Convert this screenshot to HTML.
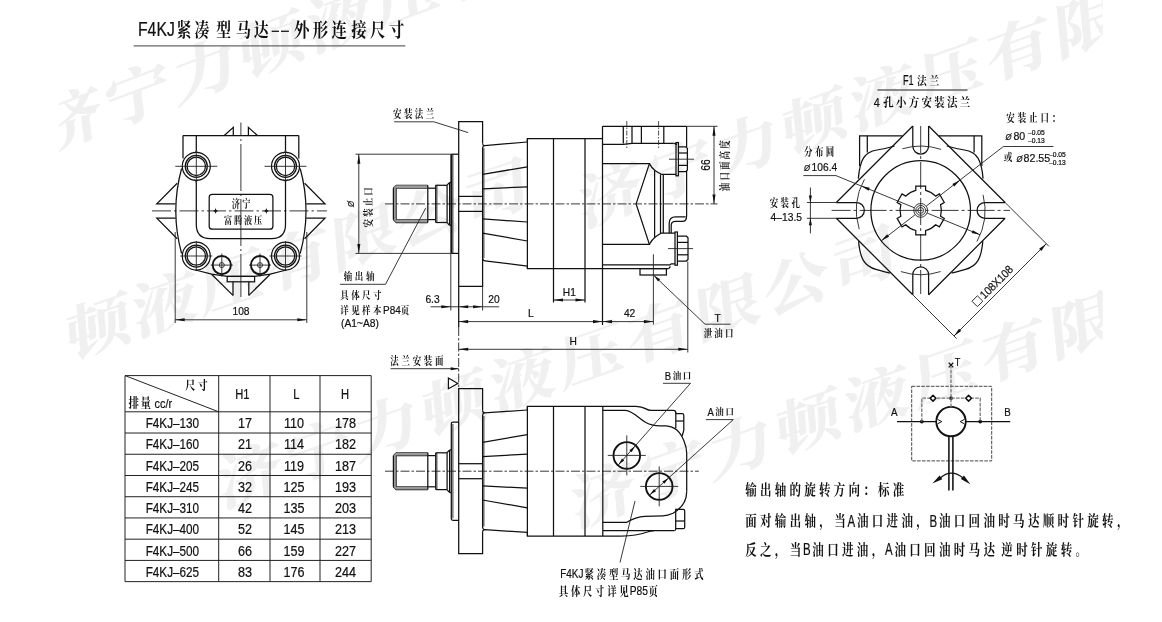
<!DOCTYPE html>
<html><head><meta charset="utf-8"><title>F4KJ</title>
<style>
html,body{margin:0;padding:0;background:#fff}
svg{display:block;font-family:"Liberation Sans","Noto Serif CJK SC",sans-serif;will-change:transform}
.k{fill:none;stroke:#111;stroke-width:1.25}
.k3{fill:none;stroke:#111;stroke-width:1.55}
.k2{fill:none;stroke:#111;stroke-width:1.9}
.n{fill:none;stroke:#222;stroke-width:.9}
.c{fill:none;stroke:#222;stroke-width:.9;stroke-dasharray:9 2 2.5 2}
.d{fill:none;stroke:#333;stroke-width:.9;stroke-dasharray:3.6 1.2}
.d2{fill:none;stroke:#777;stroke-width:1.3;stroke-dasharray:3.6 1.2}
.c2{fill:none;stroke:#222;stroke-width:.8;stroke-dasharray:5 1.5 1.5 1.5}
.n2{fill:none;stroke:#222;stroke-width:.6}
.g{fill:none;stroke:#666;stroke-width:1.3}
.a{fill:#111;stroke:none}
.t{fill:none;stroke:#222;stroke-width:1}
text{fill:#111;stroke:#111;stroke-width:.22px}
.z{font-family:"Liberation Sans","Noto Serif CJK SC",serif;font-weight:700;stroke:none}
.wm text{fill:#f0f0f0;stroke:#f0f0f0;stroke-width:.5px;font-family:"Liberation Serif","Noto Serif CJK SC",serif;font-weight:700;font-size:58px;text-anchor:middle}
</style></head><body>
<svg width="1162" height="622" viewBox="0 0 1162 622">
<clipPath id="wmc"><rect x="58.9" y="0" width="1043.8" height="622"/></clipPath><g class="wm" clip-path="url(#wmc)">
<text y="20.3" transform="translate(70 121) rotate(-20.5) skewX(-14) scale(1.172 1)">济</text>
<text y="20.3" transform="translate(137.44 95.79) rotate(-20.5) skewX(-14) scale(1.172 1)">宁</text>
<text y="20.3" transform="translate(204.88 70.57) rotate(-20.5) skewX(-14) scale(1.172 1)">力</text>
<text y="20.3" transform="translate(272.32 45.36) rotate(-20.5) skewX(-14) scale(1.172 1)">顿</text>
<text y="20.3" transform="translate(339.76 20.14) rotate(-20.5) skewX(-14) scale(1.172 1)">液</text>
<text y="20.3" transform="translate(407.2 -5.07) rotate(-20.5) skewX(-14) scale(1.172 1)">压</text>
<text y="20.3" transform="translate(474.64 -30.29) rotate(-20.5) skewX(-14) scale(1.172 1)">有</text>
<text y="20.3" transform="translate(-33.7 372.06) rotate(-18.7) skewX(-14) scale(1.172 1)">宁</text>
<text y="20.3" transform="translate(32.61 349.61) rotate(-18.7) skewX(-14) scale(1.172 1)">力</text>
<text y="20.3" transform="translate(98.91 327.17) rotate(-18.7) skewX(-14) scale(1.172 1)">顿</text>
<text y="20.3" transform="translate(165.22 304.73) rotate(-18.7) skewX(-14) scale(1.172 1)">液</text>
<text y="20.3" transform="translate(231.52 282.29) rotate(-18.7) skewX(-14) scale(1.172 1)">压</text>
<text y="20.3" transform="translate(297.83 259.84) rotate(-18.7) skewX(-14) scale(1.172 1)">有</text>
<text y="20.3" transform="translate(364.13 237.4) rotate(-18.7) skewX(-14) scale(1.172 1)">限</text>
<text y="20.3" transform="translate(430.44 214.96) rotate(-18.7) skewX(-14) scale(1.172 1)">公</text>
<text y="20.3" transform="translate(496.74 192.51) rotate(-18.7) skewX(-14) scale(1.172 1)">司</text>
<text y="20.3" transform="translate(611 195) rotate(-19.7) skewX(-14) scale(1.172 1)">济</text>
<text y="20.3" transform="translate(678.97 170.66) rotate(-19.7) skewX(-14) scale(1.172 1)">宁</text>
<text y="20.3" transform="translate(746.95 146.32) rotate(-19.7) skewX(-14) scale(1.172 1)">力</text>
<text y="20.3" transform="translate(814.92 121.99) rotate(-19.7) skewX(-14) scale(1.172 1)">顿</text>
<text y="20.3" transform="translate(882.9 97.65) rotate(-19.7) skewX(-14) scale(1.172 1)">液</text>
<text y="20.3" transform="translate(950.87 73.31) rotate(-19.7) skewX(-14) scale(1.172 1)">压</text>
<text y="20.3" transform="translate(1018.85 48.97) rotate(-19.7) skewX(-14) scale(1.172 1)">有</text>
<text y="20.3" transform="translate(1086.82 24.63) rotate(-19.7) skewX(-14) scale(1.172 1)">限</text>
<text y="20.3" transform="translate(250 476) rotate(-19.4) skewX(-14) scale(1.172 1)">济</text>
<text y="20.3" transform="translate(318.29 451.95) rotate(-19.4) skewX(-14) scale(1.172 1)">宁</text>
<text y="20.3" transform="translate(386.58 427.9) rotate(-19.4) skewX(-14) scale(1.172 1)">力</text>
<text y="20.3" transform="translate(454.87 403.85) rotate(-19.4) skewX(-14) scale(1.172 1)">顿</text>
<text y="20.3" transform="translate(523.16 379.81) rotate(-19.4) skewX(-14) scale(1.172 1)">液</text>
<text y="20.3" transform="translate(591.45 355.76) rotate(-19.4) skewX(-14) scale(1.172 1)">压</text>
<text y="20.3" transform="translate(659.74 331.71) rotate(-19.4) skewX(-14) scale(1.172 1)">有</text>
<text y="20.3" transform="translate(728.03 307.66) rotate(-19.4) skewX(-14) scale(1.172 1)">限</text>
<text y="20.3" transform="translate(796.31 283.61) rotate(-19.4) skewX(-14) scale(1.172 1)">公</text>
<text y="20.3" transform="translate(864.6 259.56) rotate(-19.4) skewX(-14) scale(1.172 1)">司</text>
<text y="20.3" transform="translate(603.6 495.4) rotate(-19.5) skewX(-14) scale(1.172 1)">济</text>
<text y="20.3" transform="translate(672.04 471.17) rotate(-19.5) skewX(-14) scale(1.172 1)">宁</text>
<text y="20.3" transform="translate(740.47 446.93) rotate(-19.5) skewX(-14) scale(1.172 1)">力</text>
<text y="20.3" transform="translate(808.91 422.7) rotate(-19.5) skewX(-14) scale(1.172 1)">顿</text>
<text y="20.3" transform="translate(877.34 398.46) rotate(-19.5) skewX(-14) scale(1.172 1)">液</text>
<text y="20.3" transform="translate(945.78 374.23) rotate(-19.5) skewX(-14) scale(1.172 1)">压</text>
<text y="20.3" transform="translate(1014.21 349.99) rotate(-19.5) skewX(-14) scale(1.172 1)">有</text>
<text y="20.3" transform="translate(1082.65 325.76) rotate(-19.5) skewX(-14) scale(1.172 1)">限</text>
</g>
<text transform="translate(138 36.4) scale(0.765 1)" font-size="20.6" text-anchor="start">F4KJ</text>
<text class="z" transform="scale(0.78 1)" y="36.96" x="226.2 249.5 277.4 302.6 325.4" font-size="19.06">紧凑型马达</text>
<path class="k" d="M271.7 31.3L279 31.3"/>
<path class="k" d="M281 31.3L288.9 31.3"/>
<text class="z" transform="scale(0.81 1)" y="36.96" x="363 386.1 409.3 433.5 456.8 480.1" font-size="19.06">外形连接尺寸</text>
<path class="g" d="M133.7 45.8L405.3 45.8"/>
<path class="c" style="stroke-dasharray:47 3 2 3;stroke-dashoffset:33.5" d="M240.9 122.5L240.9 297"/>
<path class="c" style="stroke-dasharray:19 3 2.5 3" d="M152 210.9L327 210.9"/>
<path class="k" d="M183 135.5L298.8 135.5"/>
<path class="k" d="M183 135.5L183 158.5"/>
<path class="k" d="M298.8 135.5L298.8 158.5"/>
<path class="k" d="M224.3 135.5L233.3 127.4L233.3 135.5"/>
<path class="k" d="M248.4 135.5L248.4 127.4L257.4 135.5"/>
<path class="k" d="M196.3 135.5L196.3 150.5 M285.5 135.5L285.5 150.5"/>
<path class="k" d="M196.3 181L196.3 224.5Q196.3 238.6 210.3 238.6L271.5 238.6Q285.5 238.6 285.5 224.5L285.5 181"/>
<path class="n" d="M196.3 150Q196.3 152 194.3 153 M196.3 150Q196.3 152 198.3 153 M196.3 182.5Q196.3 180.5 194.3 179.6 M196.3 182.5Q196.3 180.5 198.3 179.6"/>
<path class="n" d="M285.5 150Q285.5 152 283.5 153 M285.5 150Q285.5 152 287.5 153 M285.5 182.5Q285.5 180.5 283.5 179.6 M285.5 182.5Q285.5 180.5 287.5 179.6"/>
<circle class="k" cx="196.3" cy="166.3" r="14"/>
<circle class="k" cx="196.3" cy="166.3" r="11"/>
<circle class="k" cx="196.3" cy="166.3" r="9.2"/>
<path class="n" d="M175.3 166.3L217.3 166.3"/>
<path class="n" d="M196.3 151.3L196.3 181.3"/>
<circle class="k" cx="196.3" cy="256" r="14"/>
<circle class="k" cx="196.3" cy="256" r="11"/>
<circle class="k" cx="196.3" cy="256" r="9.2"/>
<path class="n" d="M180.3 256L212.3 256"/>
<path class="n" d="M196.3 241L196.3 271"/>
<circle class="k" cx="285.5" cy="166.3" r="14"/>
<circle class="k" cx="285.5" cy="166.3" r="11"/>
<circle class="k" cx="285.5" cy="166.3" r="9.2"/>
<path class="n" d="M264.5 166.3L306.5 166.3"/>
<path class="n" d="M285.5 151.3L285.5 181.3"/>
<circle class="k" cx="285.5" cy="256" r="14"/>
<circle class="k" cx="285.5" cy="256" r="11"/>
<circle class="k" cx="285.5" cy="256" r="9.2"/>
<path class="n" d="M269.5 256L301.5 256"/>
<path class="n" d="M285.5 241L285.5 271"/>
<path class="k" d="M181.6 168.5Q170 211 181.6 253.5"/>
<path class="k" d="M300.20000000000005 168.5Q311.8 211 300.20000000000005 253.5"/>
<path class="k" d="M195.5 270L211.6 274.2L227.2 276.4L254.60000000000002 276.4L270.20000000000005 274.2L286.3 270"/>
<rect class="k" x="227.2" y="276.4" width="27.4" height="5.4"/>
<path class="k" d="M233 281.8L233 295.4"/>
<path class="k" d="M248.8 281.8L248.8 295.4"/>
<path class="k" d="M211.6 274.2L233 295.4"/>
<path class="k" d="M270.2 274.2L248.8 295.4"/>
<circle class="k2" cx="221.8" cy="265.1" r="9.1"/>
<circle class="n" cx="221.8" cy="265.1" r="2.5"/>
<path class="n" d="M210.8 265.1L232.8 265.1"/>
<path class="n" d="M221.8 253.5L221.8 276.5"/>
<circle class="k2" cx="260" cy="265.1" r="9.1"/>
<circle class="n" cx="260" cy="265.1" r="2.5"/>
<path class="n" d="M249 265.1L271 265.1"/>
<path class="n" d="M260 253.5L260 276.5"/>
<path class="k" d="M175.6 203.9L156.8 203.9L177.2 183.3"/>
<path class="k" d="M175.6 218.2L156.8 218.2L177.2 238.8"/>
<path class="k" d="M306.2 203.9L325 203.9L304.6 183.3"/>
<path class="k" d="M306.2 218.2L325 218.2L304.6 238.8"/>
<rect class="k" x="209.2" y="194.3" width="63.7" height="34.9" rx="3"/>
<text class="z" transform="translate(231.77 208.37) scale(0.754 1)" font-size="10.81" letter-spacing="3.25">济宁</text>
<text class="z" transform="translate(224.07 223.92) scale(0.793 1)" font-size="10.28" letter-spacing="2.27">富腾液压</text>
<path class="a" d="M212.4 210.9Q215.6 210.9 215.6 207.3Q215.6 210.9 218.79999999999998 210.9Q215.6 210.9 215.6 214.5Q215.6 210.9 212.4 210.9Z"/>
<path class="a" d="M263.1 210.9Q266.3 210.9 266.3 207.3Q266.3 210.9 269.5 210.9Q266.3 210.9 266.3 214.5Q266.3 210.9 263.1 210.9Z"/>
<path class="n" d="M175.2 232L175.2 323"/>
<path class="n" d="M306.8 232L306.8 323"/>
<path class="n" d="M175.2 319.8L306.8 319.8"/>
<path class="a" d="M175.2 319.8L184.7 318.25L184.7 321.35Z"/>
<path class="a" d="M306.8 319.8L297.3 321.35L297.3 318.25Z"/>
<text transform="translate(241 315.2) scale(0.9 1)" font-size="11.4" text-anchor="middle">108</text>
<path class="c" d="M385 203.9L717.5 203.9"/>
<path class="k" d="M393.4 188.2L396.3 185.3L427.8 185.3"/>
<path class="k" d="M393.4 188.2L427.8 188.2"/>
<path class="k" d="M427.8 188.2L435.7 188.2"/>
<path class="k" d="M435.7 185.3L447.1 185.3"/>
<path class="k" d="M447.1 185.3Q448 183.2 450.9 182.2"/>
<path class="k" d="M458.7 196.4L482.6 196.4"/>
<path class="k" d="M393.4 219.6L396.3 222.5L427.8 222.5"/>
<path class="k" d="M393.4 219.6L427.8 219.6"/>
<path class="k" d="M427.8 219.6L435.7 219.6"/>
<path class="k" d="M435.7 222.5L447.1 222.5"/>
<path class="k" d="M447.1 222.5Q448 224.60000000000002 450.9 225.60000000000002"/>
<path class="k" d="M458.7 211.4L482.6 211.4"/>
<path d="M393.4 188.2L396.3 185.3L427.8 185.3L427.8 188.2Z M393.4 219.6L396.3 222.5L427.8 222.5L427.8 219.6Z M393.4 188.2L396.3 188.2L396.3 219.6L393.4 219.6Z" fill="#999" stroke="none"/>
<path class="k" d="M393.4 188.2L393.4 219.6"/>
<path class="n" d="M396.3 188.2L396.3 219.6"/>
<path class="k" d="M427.8 185.3L427.8 222.5"/>
<path class="k" d="M435.7 185.3L435.7 222.5"/>
<path class="n" d="M436.9 185.3L436.9 222.5"/>
<path class="k" d="M447.1 185.3L447.1 222.5"/>
<path class="k" d="M449.6 182.6L449.6 225.2"/>
<path class="k2" d="M451.3 154.2L451.3 253.4"/>
<path class="n" d="M452.9 154.2L452.9 253.4"/>
<path class="k" d="M451.3 154.2L458.7 154.2"/>
<path class="k" d="M451.3 253.4L458.7 253.4"/>
<path class="k" d="M458.7 286.3L458.7 121.6L482.6 121.6L482.6 143.5"/>
<path class="k" d="M482.6 143.5Q482.8 145.6 484.6 145.6L527.4 142"/>
<path class="k" d="M484.6 145.6Q482.8 145.8 482.6 148L482.6 258.6Q482.8 260.6 485 260.8L527.4 266.2"/>
<path class="k" d="M458.7 286.3L482.6 286.3L482.6 258"/>
<path class="n" d="M483.9 148L483.9 258"/>
<path class="k" d="M482.6 174.4L527.4 166.8"/>
<path class="k" d="M482.6 188.8L527.4 186.8"/>
<path class="k" d="M482.6 218.8L527.4 222"/>
<path class="k" d="M482.6 233.2L527.4 241"/>
<path class="k" d="M527.4 142L527.4 138.5L602.5 138.5"/>
<path class="k" d="M527.4 266.2L527.4 268.6L668.8 268.6"/>
<path class="k" d="M527.4 138.5L527.4 268.6"/>
<path class="k" d="M553.5 138.5L553.5 302.5"/>
<path class="k" d="M585 138.5L585 302.5"/>
<path class="k" d="M602.5 126.3L602.5 325"/>
<path class="k" d="M602.5 126.3L686.6 126.3"/>
<path class="n" d="M686.6 126.3L717.5 126.3"/>
<path class="k" d="M686.6 126.3L686.6 147"/>
<path class="k" d="M686.6 170.8L686.6 216"/>
<path class="k" d="M623.3 126.3L623.3 143.6"/>
<path class="k" d="M632 126.3L632 143.6"/>
<path class="k" d="M641.4 126.3L641.4 143.6"/>
<path class="k" d="M663.8 126.3L663.8 143.6"/>
<path class="k" d="M602.5 144.3L623.3 144.3L632 143.4L673.5 143.4"/>
<path class="k" d="M673.5 143.4Q676.3 143.4 676.4 145"/>
<path class="c2" d="M626.8 121L626.8 149"/>
<path class="c2" d="M658.6 121L658.6 149"/>
<rect class="k" x="676" y="142.6" width="2.4" height="33.2"/>
<path class="k" d="M678.4 146.79999999999998L685.8 146.79999999999998L687.4 148.39999999999998L687.4 170.0L685.8 171.6L678.4 171.6"/>
<path class="k" d="M678.4 153L687.4 153"/>
<path class="k" d="M678.4 165.4L687.4 165.4"/>
<path class="n" d="M669 159.2L694 159.2"/>
<rect class="k" x="675" y="232" width="2.4" height="33.2"/>
<path class="k" d="M677.4 236.2L686.4 236.2L688 237.79999999999998L688 259.4L686.4 261.0L677.4 261.0"/>
<path class="k" d="M677.4 242.4L688 242.4"/>
<path class="k" d="M677.4 254.8L688 254.8"/>
<path class="n" d="M668 248.6L693 248.6"/>
<path class="k" d="M602.5 163.6L649.4 163.6L636.1 203.9L649.4 244.3L602.5 244.3"/>
<path class="k" d="M649.4 163.6Q652 168.5 655 170.6T661.5 174.3L676 174.3"/>
<path class="k" d="M649.4 244.3Q652 239.5 655.6 236.8T661.5 233L675 233"/>
<path class="k" d="M654.6 170.4L654.6 237.5"/>
<path class="k" d="M660.5 174.3L660.5 233"/>
<path class="k" d="M663.3 174.3L663.3 233"/>
<path class="k" d="M686.6 216Q686.6 221.4 682.4 221.4L675.6 221.4Q671.2 221.4 671.2 225.4L671.2 233"/>
<path class="k" d="M685.6 216.8L675.6 216.8Q669.2 216.8 669.2 223.4L669.2 233"/>
<path class="k" d="M602.5 264.9L670 264.9L671.2 263.8L675 263.8"/>
<path class="k" d="M668.8 268.6L670.4 266.4"/>
<rect class="k" x="640" y="268.6" width="26.4" height="6.4"/>
<path class="n" d="M653.4 254.3L653.4 324.5"/>
<path class="n" d="M355.5 154.2L451.3 154.2"/>
<path class="n" d="M355.5 253.4L451.3 253.4"/>
<path class="n" d="M358.8 154.2L358.8 253.4"/>
<path class="a" d="M358.8 154.2L360.35 163.7L357.25 163.7Z"/>
<path class="a" d="M358.8 253.4L357.25 243.9L360.35 243.9Z"/>
<path class="n" d="M714 126.3L714 203.9"/>
<path class="a" d="M714 126.3L715.55 135.8L712.45 135.8Z"/>
<path class="a" d="M714 203.9L712.45 194.4L715.55 194.4Z"/>
<text transform="translate(709.8 165) rotate(-90) scale(0.8 1)" font-size="12.8" text-anchor="middle">66</text>
<path class="n" d="M450.8 253.4L450.8 310.5"/>
<path class="n" d="M482.6 286.3L482.6 310.5"/>
<path class="n" d="M430.6 306.8L499.2 306.8"/>
<path class="a" d="M450.8 306.8L441.3 308.35L441.3 305.25Z"/>
<path class="a" d="M458.7 306.8L468.2 305.25L468.2 308.35Z"/>
<path class="a" d="M482.6 306.8L473.1 308.35L473.1 305.25Z"/>
<text transform="translate(425.4 302.9) scale(0.9 1)" font-size="11.4" text-anchor="start">6.3</text>
<text transform="translate(488.2 302.9) scale(0.9 1)" font-size="11.4" text-anchor="start">20</text>
<path class="k" d="M458.7 286.3L458.7 327"/>
<path class="c" d="M458.7 327L458.7 388.5"/>
<path class="n" d="M458.7 321.6L653.4 321.6"/>
<path class="a" d="M458.7 321.6L468.2 320.05L468.2 323.15Z"/>
<path class="a" d="M602.5 321.6L593 323.15L593 320.05Z"/>
<path class="a" d="M602.5 321.6L612 320.05L612 323.15Z"/>
<path class="a" d="M653.4 321.6L643.9 323.15L643.9 320.05Z"/>
<text transform="translate(530.8 317.4) scale(0.9 1)" font-size="11.4" text-anchor="middle">L</text>
<text transform="translate(629.6 317.4) scale(0.9 1)" font-size="11.4" text-anchor="middle">42</text>
<path class="n" d="M458.7 349.3L687.8 349.3"/>
<path class="a" d="M458.7 349.3L468.2 347.75L468.2 350.85Z"/>
<path class="a" d="M687.8 349.3L678.3 350.85L678.3 347.75Z"/>
<text transform="translate(573.2 344.6) scale(0.9 1)" font-size="11.4" text-anchor="middle">H</text>
<path class="n" d="M687.8 261.5L687.8 352.5"/>
<path class="n" d="M553.5 300L585 300"/>
<path class="a" d="M553.5 300L563 298.45L563 301.55Z"/>
<path class="a" d="M585 300L575.5 301.55L575.5 298.45Z"/>
<text transform="translate(569.3 295.6) scale(0.9 1)" font-size="11.4" text-anchor="middle">H1</text>
<path class="n" d="M705 324.2L730.5 324.2"/>
<path class="n" d="M705 324.2L654.2 275.8"/>
<path class="a" d="M654 275.6L660.14 279.3L658 281.55Z"/>
<text transform="translate(717.6 321.6) scale(0.9 1)" font-size="11.4" text-anchor="middle">T</text>
<text class="z" transform="translate(703.66 337.38) scale(0.792 1)" font-size="10.71" letter-spacing="2.8">泄油口</text>
<text class="z" transform="translate(393.06 118.02) scale(0.747 1)" font-size="11.35" letter-spacing="3.24">安装法兰</text>
<path class="n" d="M394.2 121.8L433.8 121.8L468.2 132.6"/>
<text class="z" transform="translate(343.66 279.88) scale(0.792 1)" font-size="10.71" letter-spacing="3.43">输出轴</text>
<path class="n" d="M340 284.3L385.5 284.3L425.6 208.2"/>
<text class="z" transform="translate(340.26 299.08) scale(0.792 1)" font-size="10.71" letter-spacing="3.05">具体尺寸</text>
<text class="z" transform="translate(340.26 313.58) scale(0.792 1)" font-size="10.71" letter-spacing="3.05">详见样本</text>
<text transform="translate(382.99 313.7) scale(0.86 1)" font-size="11.6">P84</text>
<text class="z" transform="translate(400.71 313.58) scale(0.792 1)" font-size="10.71">页</text>
<text transform="translate(341 326.6) scale(0.9 1)" font-size="11.4" text-anchor="start">(A1~A8)</text>
<text transform="translate(354.4 203.9) rotate(-90) scale(0.9 1)" font-size="8.6" text-anchor="middle" font-style="italic">Ø</text>
<g transform="translate(0 227.2) rotate(-90)"><text class="z" transform="translate(-0.34 371.68) scale(0.792 1)" font-size="10.71" letter-spacing="2.67">安装止口</text></g>
<g transform="translate(0 190.8) rotate(-90)"><text class="z" transform="translate(-0.34 729.02) scale(0.747 1)" font-size="11.35" letter-spacing="2.84">油口面高度</text></g>
<text transform="translate(903 85.4) scale(0.66 1)" font-size="13.8" text-anchor="start">F1</text>
<text class="z" transform="translate(917.01 85.01) scale(0.846 1)" font-size="11.56" letter-spacing="3.33">法兰</text>
<path class="g" d="M877.5 90L967.5 90"/>
<text transform="translate(873.8 107.2) scale(0.8 1)" font-size="13.6" text-anchor="start">4</text>
<text class="z" transform="translate(883.18 106.55) scale(0.854 1)" font-size="12.21" letter-spacing="2.72">孔小方安装法兰</text>
<path class="c" style="stroke-dasharray:27 3 3 3;stroke-dashoffset:8" d="M831.6 210.4L1010 210.4"/>
<path class="c" style="stroke-dasharray:27 3 3 3" d="M920.7 126L920.7 294"/>
<path class="k" d="M1005.1 218.3L928.6 294.8"/>
<path class="k" d="M836.3 218.3L912.8 294.8"/>
<path class="k" d="M1005.1 202.5L928.6 126"/>
<path class="k" d="M836.3 202.5L912.8 126"/>
<path class="k" d="M1005.1 202.5L985 202.5A7.9 7.9 0 0 0 985 218.3L1005.1 218.3"/>
<path class="k" d="M912.8 294.8L912.8 274.7A7.9 7.9 0 0 1 928.6 274.7L928.6 294.8"/>
<path class="k" d="M836.3 202.5L856.4 202.5A7.9 7.9 0 0 1 856.4 218.3L836.3 218.3"/>
<path class="k" d="M912.8 126L912.8 146.1A7.9 7.9 0 0 0 928.6 146.1L928.6 126"/>
<path class="n" d="M806.9 202.5L836.3 202.5"/>
<path class="n" d="M806.9 218.3L836.3 218.3"/>
<circle class="k" cx="920.7" cy="210.4" r="49.8"/>
<path class="n" d="M902.44 148.75A64.3 64.3 0 0 1 941.1 149.42"/>
<path class="n" d="M940.57 271.55A64.3 64.3 0 0 1 900.83 271.55"/>
<path class="n" d="M859.21 229.2A64.3 64.3 0 0 1 864.46 179.23"/>
<path class="n" d="M983.09 194.84A64.3 64.3 0 0 1 976.94 241.57"/>
<path class="k" d="M902.4 135.8L859.6 135.8L859.6 166"/>
<path class="k" d="M939 135.8L981.8 135.8L981.8 166"/>
<path class="k" d="M867.3 135.8L867.3 152.6"/>
<path class="k" d="M974.1 135.8L974.1 152.6"/>
<path class="k" d="M858.3 178.6C860 160 864 152 877 150C885 148.6 890 147.4 894.6 146"/>
<path class="k" d="M858.6 241.3C860 258 864 266 876 269.4C882 271 886 272 889.8 273.2"/>
<path class="k" d="M983.1 178.6C981.4 160 977.4 152 964.4 150C956.4 148.6 951.4 147.4 946.8 146"/>
<path class="k" d="M982.8 241.3C981.4 258 977.4 266 965.4 269.4C959.4 271 955.4 272 951.6 273.2"/>
<path class="k" d="M915.8 190.29L915.8 186L925.6 186L925.6 190.29A20.7 20.7 0 0 1 935.67 196.1L939.38 193.96L944.28 202.44L940.57 204.59A20.7 20.7 0 0 1 940.57 216.21L944.28 218.36L939.38 226.84L935.67 224.7A20.7 20.7 0 0 1 925.6 230.51L925.6 234.8L915.8 234.8L915.8 230.51A20.7 20.7 0 0 1 905.73 224.7L902.02 226.84L897.12 218.36L900.83 216.21A20.7 20.7 0 0 1 900.83 204.59L897.12 202.44L902.02 193.96L905.73 196.1A20.7 20.7 0 0 1 915.8 190.29Z"/>
<circle class="n" cx="920.7" cy="210.4" r="6.9"/>
<circle class="n" cx="920.7" cy="210.4" r="4.9"/>
<circle class="n" cx="920.7" cy="210.4" r="2.9"/>
<path class="n" d="M803.3 175.6L836 175.6"/>
<path class="n" d="M836 175.6L914.23 207.74"/>
<path class="n" d="M927.17 213.06L980.18 234.84"/>
<path class="a" d="M861.22 185.96L869.77 187.8L868.59 190.67Z"/>
<path class="a" d="M980.18 234.84L971.63 233L972.81 230.13Z"/>
<path class="n" d="M1003.4 146.5L1053.4 146.5"/>
<path class="n" d="M1003.4 146.5L926.24 206.12"/>
<path class="n" d="M915.16 214.68L881.29 240.85"/>
<path class="a" d="M960.11 179.95L954.25 186.44L952.35 183.98Z"/>
<path class="a" d="M881.29 240.85L887.15 234.36L889.05 236.82Z"/>
<path class="n" d="M810.4 187.5L810.4 233.4"/>
<path class="a" d="M810.4 202.5L808.85 195.5L811.95 195.5Z"/>
<path class="a" d="M810.4 218.3L811.95 225.3L808.85 225.3Z"/>
<path class="n" d="M1005.1 202.5L1048.9 246.3"/>
<path class="n" d="M912.8 294.8L956.6 338.6"/>
<path class="n" d="M954 336L1046.3 243.7"/>
<path class="a" d="M954 336L958.99 328.82L961.18 331.01Z"/>
<path class="a" d="M1046.3 243.7L1041.31 250.88L1039.12 248.69Z"/>
<g transform="translate(954 336) rotate(-45)"><rect x="37.3" y="-11.9" width="7.7" height="7.7" class="n"/><text transform="translate(47.4 -4.1) scale(0.9 1)" font-size="11.5">108X108</text></g>
<text class="z" transform="translate(804.06 156.42) scale(0.747 1)" font-size="11.35" letter-spacing="3.24">分布圆</text>
<text transform="translate(804 171) scale(0.9 1)" font-size="8.6" text-anchor="start" font-style="italic">Ø</text>
<text transform="translate(811.6 171) scale(0.9 1)" font-size="11.4" text-anchor="start">106.4</text>
<text class="z" transform="translate(769.66 206.82) scale(0.747 1)" font-size="11.35" letter-spacing="3.24">安装孔</text>
<text transform="translate(770.6 220.6) scale(0.9 1)" font-size="11.4" text-anchor="start">4–13.5</text>
<text class="z" transform="translate(1006.26 122.21) scale(0.7336 1)" font-size="11.56" letter-spacing="3.98">安装止口：</text>
<text transform="translate(1005.6 140.4) scale(0.9 1)" font-size="8.6" text-anchor="start" font-style="italic">Ø</text>
<text transform="translate(1013.4 140.4) scale(0.9 1)" font-size="11.8" text-anchor="start">80</text>
<text transform="translate(1028 135) scale(1 1)" font-size="6.7" text-anchor="start">–0.05</text>
<text transform="translate(1028 143.3) scale(1 1)" font-size="6.7" text-anchor="start">–0.13</text>
<text class="z" transform="translate(1003.65 161.1) scale(0.829 1)" font-size="10.49">或</text>
<text transform="translate(1016.6 161.5) scale(0.9 1)" font-size="8.6" text-anchor="start" font-style="italic">Ø</text>
<text transform="translate(1023.6 161.5) scale(0.9 1)" font-size="11.8" text-anchor="start">82.55</text>
<text transform="translate(1049 156.6) scale(1 1)" font-size="6.7" text-anchor="start">–0.05</text>
<text transform="translate(1049 165) scale(1 1)" font-size="6.7" text-anchor="start">–0.13</text>
<rect class="d" x="911.7" y="386.3" width="80" height="74.6"/>
<path class="k" d="M897 421.6L936.3 421.6"/>
<path class="k" d="M965.7 421.6L1010.2 421.6"/>
<circle class="k2" cx="951" cy="421.6" r="14.7"/>
<circle cx="921.8" cy="421.6" r="1.9" class="a"/>
<circle cx="980.2" cy="421.6" r="1.9" class="a"/>
<circle cx="951" cy="398.2" r="1.9" class="a"/>
<path class="d2" d="M921.8 421.6L921.8 398.2L980.2 398.2L980.2 421.6"/>
<path class="d2" d="M951 407L951 367"/>
<path class="k" d="M948.7 362.8L953.3 367.4M953.3 362.8L948.7 367.4"/>
<path d="M930.1 398.2L933 395.3L935.9 398.2L933 401.1Z" fill="#fff" stroke="#111" stroke-width="1.5" stroke-linejoin="round"/>
<path d="M965.7 398.2L968.6 395.3L971.5 398.2L968.6 401.1Z" fill="#fff" stroke="#111" stroke-width="1.5" stroke-linejoin="round"/>
<path d="M937.4 419.3L941.8 421.6L937.4 423.90000000000003" fill="#fff" stroke="#111" stroke-width="1"/>
<path d="M964.6 419.3L960.2 421.6L964.6 423.90000000000003" fill="#fff" stroke="#111" stroke-width="1"/>
<path class="k3" d="M948.9 436.3L948.9 490.5"/>
<path class="k3" d="M952.9 436.3L952.9 490.5"/>
<path class="k" d="M940 478.2Q951.1 467.9 963.4 478.2"/>
<path class="a" d="M932.3 483.6L939.59 475.57L942.27 479.32Z"/>
<path class="a" d="M970.3 484.3L960.88 478.92L963.96 475.5Z"/>
<text transform="translate(954.8 366.2) scale(0.82 1)" font-size="11.2" text-anchor="start">T</text>
<text transform="translate(891 416.4) scale(0.85 1)" font-size="11.5" text-anchor="start">A</text>
<text transform="translate(1004.2 416.4) scale(0.85 1)" font-size="11.5" text-anchor="start">B</text>
<text class="z" transform="translate(745.14 494.95) scale(0.791 1)" font-size="14.56" letter-spacing="4.12">输出轴的旋转方向：标准</text>
<text class="z" transform="translate(745.14 526.15) scale(0.791 1)" font-size="14.56" letter-spacing="4.21">面对输出轴，当</text>
<text transform="translate(851.33 526.5) scale(0.7 1)" font-size="16.4" text-anchor="middle">A</text>
<text class="z" transform="translate(856.89 526.15) scale(0.791 1)" font-size="14.56" letter-spacing="4.21">油口进油，</text>
<text transform="translate(933.38 526.5) scale(0.7 1)" font-size="16.4" text-anchor="middle">B</text>
<text class="z" transform="translate(938.94 526.15) scale(0.791 1)" font-size="14.56" letter-spacing="4.21">油口回油时马达顺时针旋转，</text>
<text class="z" transform="translate(745.14 554.95) scale(0.791 1)" font-size="14.56" letter-spacing="4.21">反之，当</text>
<text transform="translate(806.78 555.3) scale(0.7 1)" font-size="16.4" text-anchor="middle">B</text>
<text class="z" transform="translate(812.34 554.95) scale(0.791 1)" font-size="14.56" letter-spacing="4.21">油口进油，</text>
<text transform="translate(888.83 555.3) scale(0.7 1)" font-size="16.4" text-anchor="middle">A</text>
<text class="z" transform="translate(894.39 554.95) scale(0.791 1)" font-size="14.56" letter-spacing="4.21">油口回油时马达</text>
<text class="z" transform="translate(1001.34 554.95) scale(0.791 1)" font-size="14.56" letter-spacing="4.21">逆时针旋转。</text>
<path class="t" d="M125 375.6H371.2V581.64H125Z"/>
<path class="t" d="M218.7 375.6L218.7 581.64"/>
<path class="t" d="M270 375.6L270 581.64"/>
<path class="t" d="M320 375.6L320 581.64"/>
<path class="t" d="M125 411.8L371.2 411.8"/>
<path class="t" d="M125 433.03L371.2 433.03"/>
<path class="t" d="M125 454.26L371.2 454.26"/>
<path class="t" d="M125 475.49L371.2 475.49"/>
<path class="t" d="M125 496.72L371.2 496.72"/>
<path class="t" d="M125 517.95L371.2 517.95"/>
<path class="t" d="M125 539.18L371.2 539.18"/>
<path class="t" d="M125 560.41L371.2 560.41"/>
<path class="t" d="M125 375.6L218.7 411.8"/>
<text class="z" transform="translate(184.98 390.37) scale(0.87 1)" font-size="11.99" letter-spacing="2.49">尺寸</text>
<text class="z" transform="translate(128.38 407.11) scale(0.826 1)" font-size="12.63" letter-spacing="1.9">排量</text>
<text transform="translate(154.6 407.6) scale(0.8 1)" font-size="13.6" text-anchor="start">cc/r</text>
<text transform="translate(242.4 398.6) scale(0.8 1)" font-size="14" text-anchor="middle">H1</text>
<text transform="translate(296.4 398.6) scale(0.8 1)" font-size="14" text-anchor="middle">L</text>
<text transform="translate(345 398.6) scale(0.8 1)" font-size="14" text-anchor="middle">H</text>
<text transform="translate(172.4 428.2) scale(0.84 1)" font-size="14" text-anchor="middle">F4KJ–130</text>
<text transform="translate(245 428.2) scale(0.9 1)" font-size="14" text-anchor="middle">17</text>
<text transform="translate(294 428.2) scale(0.9 1)" font-size="14" text-anchor="middle">110</text>
<text transform="translate(345.4 428.2) scale(0.9 1)" font-size="14" text-anchor="middle">178</text>
<text transform="translate(172.4 449.43) scale(0.84 1)" font-size="14" text-anchor="middle">F4KJ–160</text>
<text transform="translate(245 449.43) scale(0.9 1)" font-size="14" text-anchor="middle">21</text>
<text transform="translate(294 449.43) scale(0.9 1)" font-size="14" text-anchor="middle">114</text>
<text transform="translate(345.4 449.43) scale(0.9 1)" font-size="14" text-anchor="middle">182</text>
<text transform="translate(172.4 470.66) scale(0.84 1)" font-size="14" text-anchor="middle">F4KJ–205</text>
<text transform="translate(245 470.66) scale(0.9 1)" font-size="14" text-anchor="middle">26</text>
<text transform="translate(294 470.66) scale(0.9 1)" font-size="14" text-anchor="middle">119</text>
<text transform="translate(345.4 470.66) scale(0.9 1)" font-size="14" text-anchor="middle">187</text>
<text transform="translate(172.4 491.89) scale(0.84 1)" font-size="14" text-anchor="middle">F4KJ–245</text>
<text transform="translate(245 491.89) scale(0.9 1)" font-size="14" text-anchor="middle">32</text>
<text transform="translate(294 491.89) scale(0.9 1)" font-size="14" text-anchor="middle">125</text>
<text transform="translate(345.4 491.89) scale(0.9 1)" font-size="14" text-anchor="middle">193</text>
<text transform="translate(172.4 513.12) scale(0.84 1)" font-size="14" text-anchor="middle">F4KJ–310</text>
<text transform="translate(245 513.12) scale(0.9 1)" font-size="14" text-anchor="middle">42</text>
<text transform="translate(294 513.12) scale(0.9 1)" font-size="14" text-anchor="middle">135</text>
<text transform="translate(345.4 513.12) scale(0.9 1)" font-size="14" text-anchor="middle">203</text>
<text transform="translate(172.4 534.35) scale(0.84 1)" font-size="14" text-anchor="middle">F4KJ–400</text>
<text transform="translate(245 534.35) scale(0.9 1)" font-size="14" text-anchor="middle">52</text>
<text transform="translate(294 534.35) scale(0.9 1)" font-size="14" text-anchor="middle">145</text>
<text transform="translate(345.4 534.35) scale(0.9 1)" font-size="14" text-anchor="middle">213</text>
<text transform="translate(172.4 555.58) scale(0.84 1)" font-size="14" text-anchor="middle">F4KJ–500</text>
<text transform="translate(245 555.58) scale(0.9 1)" font-size="14" text-anchor="middle">66</text>
<text transform="translate(294 555.58) scale(0.9 1)" font-size="14" text-anchor="middle">159</text>
<text transform="translate(345.4 555.58) scale(0.9 1)" font-size="14" text-anchor="middle">227</text>
<text transform="translate(172.4 576.81) scale(0.84 1)" font-size="14" text-anchor="middle">F4KJ–625</text>
<text transform="translate(245 576.81) scale(0.9 1)" font-size="14" text-anchor="middle">83</text>
<text transform="translate(294 576.81) scale(0.9 1)" font-size="14" text-anchor="middle">176</text>
<text transform="translate(345.4 576.81) scale(0.9 1)" font-size="14" text-anchor="middle">244</text>
<path class="c" d="M385 471.2L698.8 471.2"/>
<path class="k" d="M393.4 455.6L396.3 452.8L427.8 452.8"/>
<path class="k" d="M393.4 455.6L427.8 455.6"/>
<path class="k" d="M427.8 455.6L435.7 455.6"/>
<path class="k" d="M435.7 452.8L447.1 452.8"/>
<path class="k" d="M447.1 452.8Q448 450.6 450.9 449.6"/>
<path class="k" d="M458.7 463.7L482.6 463.7"/>
<path class="k" d="M393.4 486.8L396.3 489.6L427.8 489.6"/>
<path class="k" d="M393.4 486.8L427.8 486.8"/>
<path class="k" d="M427.8 486.8L435.7 486.8"/>
<path class="k" d="M435.7 489.6L447.1 489.6"/>
<path class="k" d="M447.1 489.59999999999997Q448 491.79999999999995 450.9 492.79999999999995"/>
<path class="k" d="M458.7 478.7L482.6 478.7"/>
<path d="M393.4 455.6L396.3 452.8L427.8 452.8L427.8 455.6Z M393.4 486.79999999999995L396.3 489.59999999999997L427.8 489.59999999999997L427.8 486.79999999999995Z M393.4 455.6L396.3 455.6L396.3 486.79999999999995L393.4 486.79999999999995Z" fill="#999" stroke="none"/>
<path class="k" d="M393.4 455.6L393.4 486.8"/>
<path class="n" d="M396.3 455.6L396.3 486.8"/>
<path class="k" d="M427.8 452.8L427.8 489.6"/>
<path class="k" d="M435.7 452.8L435.7 489.6"/>
<path class="n" d="M436.9 452.8L436.9 489.6"/>
<path class="k" d="M447.1 452.8L447.1 489.6"/>
<path class="k" d="M449.6 450L449.6 492.4"/>
<path class="k" d="M458.7 422L453 422Q451.3 422 451.3 423.8L451.3 518.5999999999999Q451.3 520.4 453 520.4L458.7 520.4"/>
<path class="n" d="M452.9 424L452.9 518.4"/>
<path class="k" d="M482.6 410.6L482.6 388.7L458.7 388.7L458.7 553.7L482.6 553.7L482.6 531.8"/>
<path class="k" d="M482.6 410.6Q482.8 412.8 484.6 412.8L527.4 410"/>
<path class="k" d="M482.6 531.8Q482.8 529.5999999999999 484.6 529.5999999999999L527.4 532.4"/>
<path class="k" d="M484.6 412.8Q482.8 413 482.6 415.2L482.6 527.2Q482.8 529.4 484.6 529.5999999999999"/>
<path class="n" d="M483.9 416L483.9 526.4"/>
<path class="k" d="M482.6 442.4L527.4 434.6"/>
<path class="k" d="M482.6 500L527.4 507.8"/>
<path class="k" d="M482.6 456.6L527.4 454.2"/>
<path class="k" d="M482.6 485.8L527.4 488.2"/>
<path class="k" d="M527.4 410L527.4 406.3L636 406.3"/>
<path class="k" d="M527.4 532.4L527.4 536.1L621.7 536.1"/>
<path class="k" d="M527.4 406.3L527.4 536.1"/>
<path class="k" d="M553.5 406.3L553.5 536.1"/>
<path class="k" d="M585 406.3L585 536.1"/>
<path class="k" d="M602.8 406.3L602.8 536.1"/>
<path class="k" d="M636 406.3Q642 406.6 645.4 408.6T652 410.4L673.6 410.4Q675.8 410.4 675.8 413"/>
<path class="k" d="M602.8 410.4L625.4 410.4C633 411 638 418 645 422C650 425 655.5 425.8 660 425.8L666 425.8C675 426.4 681 433 684 441C686 446 686.7 449 686.7 453L686.7 491.4"/>
<path class="k" d="M675.8 413.6L682.2 413.6Q683.8 413.6 683.8 415.4L683.8 430.2L682.2 436"/>
<path class="k" d="M675.8 421L683.8 421"/>
<path class="k" d="M675.8 412.6L675.8 428.6"/>
<path class="k" d="M686.7 491.4C686.7 500 682 508 673 513.3C668 515.6 664 515.8 662.8 515.8L644.8 516.3C637 516.6 632 519 626.8 522.3L602.8 522.3"/>
<path class="k" d="M602.8 530.7L674.4 530.7"/>
<path class="k" d="M674.4 530.7Q675.7 530.6 675.7 528.8"/>
<path class="k" d="M621.7 536.1Q636 536 647.4 532Q650 530.9 654 530.7"/>
<path class="k" d="M675.7 509.4L683.2 509.4Q684.7 509.4 684.7 511L684.7 527.2Q684.7 528.7 683.2 528.7L675.7 528.7Z"/>
<path class="k" d="M675.7 521L684.7 521"/>
<circle class="k2" cx="626.8" cy="455.4" r="13.3"/>
<path class="n" d="M607.8 455.4L645.8 455.4"/>
<path class="n" d="M626.8 435.4L626.8 475.4"/>
<circle class="k2" cx="659.2" cy="486.4" r="13.3"/>
<path class="n" d="M640.2 486.4L678.2 486.4"/>
<path class="n" d="M659.2 466.4L659.2 506.4"/>
<path class="n" d="M690.5 383.3L617.99 465.37"/>
<path class="a" d="M635.14 445.96L631.63 452.2L629.38 450.21Z"/>
<path class="a" d="M618.46 464.84L621.97 458.6L624.22 460.59Z"/>
<path class="n" d="M663 383.3L690.5 383.3"/>
<path class="n" d="M733.3 419.6L649.32 495.31"/>
<path class="a" d="M668.56 477.96L664.36 483.76L662.36 481.54Z"/>
<path class="a" d="M649.84 494.84L654.04 489.04L656.04 491.26Z"/>
<path class="n" d="M705.9 419.6L733.3 419.6"/>
<text transform="translate(664.8 379.8) scale(0.85 1)" font-size="11.2" text-anchor="start">B</text>
<text class="z" transform="translate(672.66 379.08) scale(0.89 1)" font-size="9.53" letter-spacing="1.93">油口</text>
<text transform="translate(707.6 415.7) scale(0.85 1)" font-size="11.2" text-anchor="start">A</text>
<text class="z" transform="translate(715.26 414.98) scale(0.89 1)" font-size="9.53" letter-spacing="1.93">油口</text>
<text class="z" transform="translate(390.26 365.22) scale(0.747 1)" font-size="11.35" letter-spacing="3.64">法兰安装面</text>
<path class="n" d="M390.5 368.7L458.7 368.7"/>
<path class="a" d="M458.7 368.7L450.7 370.25L450.7 367.15Z"/>
<path d="M448.4 378L457.8 383.4L448.4 388.8Z" fill="#fff" stroke="#111" stroke-width="1.2"/>
<path class="n" d="M620 562.5L635 501"/>
<text transform="translate(560.2 577.9) scale(0.78 1)" font-size="12.8" text-anchor="start">F4KJ</text>
<text class="z" transform="translate(584.53 578.55) scale(0.766 1)" font-size="12.21" letter-spacing="3.71">紧凑型马达油口面形式</text>
<text class="z" transform="translate(558.83 595.53) scale(0.753 1)" font-size="12.42" letter-spacing="3.63">具体尺寸详见</text>
<text transform="translate(629.77 594.9) scale(0.8 1)" font-size="12.8">P85</text>
<text class="z" transform="translate(648.41 595.53) scale(0.753 1)" font-size="12.42">页</text>
</svg>
</body></html>
